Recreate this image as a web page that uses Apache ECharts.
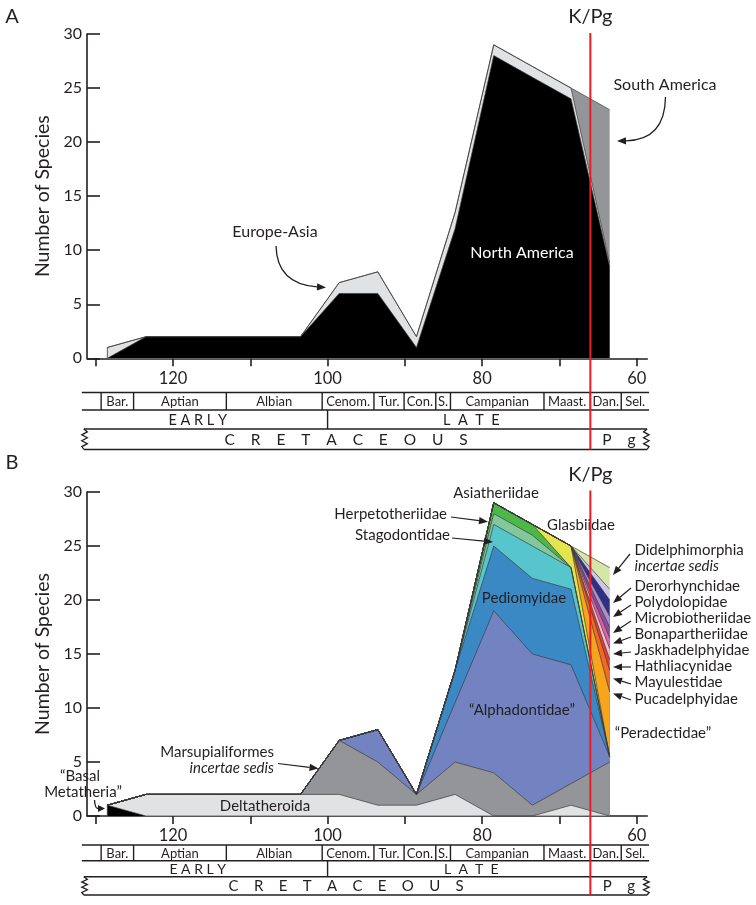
<!DOCTYPE html>
<html><head><meta charset="utf-8">
<script src="https://cdn.jsdelivr.net/npm/echarts@6/dist/echarts.min.js"></script>
<style>html,body{margin:0;padding:0;background:#fff}#c{width:756px;height:905px}</style>
</head><body><div id="c"></div>
<script>
// ---------- data ----------
const ages = [128.5,123.5,118.5,113.5,108.5,103.5,98.5,93.5,88.5,83.5,78.5,73.5,68.5,63.5];
const yTickValues = [0,5,10,15,20,25,30];
const xTickAges = [130,120,110,100,90,80,70,60];
const xLabelAges = [120,100,80,60];
const kpgAge = 66;

// Panel A (by continent)
const northAmerica = [0,2,2,2,2,2,6,6,1,12,28,26,24,8.5];
const europeAsia   = [1,0,0,0,0,0,1,2,1,1.5,1,1,1,0.3];
const southAmerica = [0,0,0,0,0,0,0,0,0,0,0,0,0,14.2];

// Panel B (by family)
const basalMetatheria   = [1,0,0,0,0,0,0,0,0,0,0,0,0,0];
const deltatheroida     = [0,2,2,2,2,2,2,1,1,2,0,0,1,0];
const marsupialiformes  = [0,0,0,0,0,0,5,4,1,3,4,1,2,5];
const alphadontidae     = [0,0,0,0,0,0,0,3,0,5.5,15,14,11,0.5];
const pediomyidae       = [0,0,0,0,0,0,0,0,0,3,6,7,7,0];
const stagodontidae     = [0,0,0,0,0,0,0,0,0,0,2,3,2,0];
const herpetotheriidae  = [0,0,0,0,0,0,0,0,0,0,1,1,0,0];
const asiatheriidae     = [0,0,0,0,0,0,0,0,0,0,1,1,0,0];
const glasbiidae        = [0,0,0,0,0,0,0,0,0,0,0,0,2,0];
const peradectidae      = [0,0,0,0,0,0,0,0,0,0,0,0,0,6];
const pucadelphyidae    = [0,0,0,0,0,0,0,0,0,0,0,0,0,2];
const mayulestidae      = [0,0,0,0,0,0,0,0,0,0,0,0,0,1];
const hathliacynidae    = [0,0,0,0,0,0,0,0,0,0,0,0,0,1];
const jaskhadelphyidae  = [0,0,0,0,0,0,0,0,0,0,0,0,0,1];
const bonapartheriidae  = [0,0,0,0,0,0,0,0,0,0,0,0,0,1];
const microbiotheriidae = [0,0,0,0,0,0,0,0,0,0,0,0,0,1];
const polydolopidae     = [0,0,0,0,0,0,0,0,0,0,0,0,0,1.5];
const derorhynchidae    = [0,0,0,0,0,0,0,0,0,0,0,0,0,1];
const didelphimorphiaIS = [0,0,0,0,0,0,0,0,0,0,0,0,0,2];

// Timescale
const stageNames  = ['', 'Bar.', 'Aptian', 'Albian', 'Cenom.', 'Tur.', 'Con.', 'S.', 'Campanian', 'Maast.', 'Dan.', 'Sel.'];
const stageBounds = [131.8, 129.3, 125.1, 113.1, 100.7, 94.0, 90.1, 86.0, 84.1, 72.0, 66.0, 62.0, 58.4];
const epochNames  = ['E A R L Y', 'L  A  T  E'];
const epochLabelAges = [116.8, 81.4];
const epochBoundary = 100.0;
const periodNames = ['C    R    E    T    A    C    E    O    U    S', 'P    g'];
const periodLabelAges = [97.6, 62.3];

// ---------- styling ----------
const FONT = 'Lato, "Open Sans", sans-serif';
const INK = '#231f20';
const OUT = '#3c3c3c';

const chart = echarts.init(document.getElementById('c'), null, {renderer: 'canvas'});

// Stack layers (bottom -> top) by cumulative sums; draw top layer first so lower ones paint over it.
function stackedSeries(layers, idx) {
  const cum = ages.map(() => 0);
  const out = [];
  layers.forEach(([name, vals, color]) => {
    for (let i = 0; i < ages.length; i++) cum[i] += vals[i];
    out.push({
      type: 'line', name: name, xAxisIndex: idx, yAxisIndex: idx,
      data: ages.map((a, i) => [a, +cum[i].toFixed(3)]),
      symbol: 'none', showSymbol: false, silent: true, animation: false,
      lineStyle: {color: OUT, width: 0.7},
      areaStyle: {color: color, opacity: 1, origin: 'start'},
      itemStyle: {color: color}
    });
  });
  return out.reverse();
}

function xAxis(idx, margin) {
  return {
    type: 'value', gridIndex: idx, min: 58.63, max: 131.13, inverse: true,
    splitLine: {show: false},
    axisLine: {onZero: false, lineStyle: {color: INK, width: 1.6}},
    axisTick: {customValues: xTickAges, length: 8, lineStyle: {color: INK, width: 1.6}},
    axisLabel: {customValues: xLabelAges, fontSize: 16.5, color: INK, margin: margin, fontFamily: FONT}
  };
}
function yAxis(idx) {
  return {
    type: 'value', gridIndex: idx, min: 0, max: 30, interval: 5,
    splitLine: {show: false},
    axisLine: {onZero: false, lineStyle: {color: INK, width: 1.6}},
    axisTick: {inside: true, length: 13, lineStyle: {color: INK, width: 1.6}},
    axisLabel: {fontSize: 16, color: INK, margin: 5, padding: [0, 0, 10, 0], fontFamily: FONT},
    name: 'Number of Species', nameLocation: 'middle', nameGap: 25,
    nameTextStyle: {fontSize: 19.5, color: INK, fontFamily: FONT}
  };
}

const seriesA = stackedSeries([
  ['North America', northAmerica, '#000000'],
  ['Europe-Asia', europeAsia, '#e1e2e4'],
  ['South America', southAmerica, '#939598']
], 0);
const seriesB = stackedSeries([
  ['Basal Metatheria', basalMetatheria, '#000000'],
  ['Deltatheroida', deltatheroida, '#e1e2e4'],
  ['Marsupialiformes incertae sedis', marsupialiformes, '#939598'],
  ['Alphadontidae', alphadontidae, '#7383c1'],
  ['Pediomyidae', pediomyidae, '#3a89c5'],
  ['Stagodontidae', stagodontidae, '#56c5cc'],
  ['Herpetotheriidae', herpetotheriidae, '#81c99c'],
  ['Asiatheriidae', asiatheriidae, '#4db848'],
  ['Glasbiidae', glasbiidae, '#e4e44e'],
  ['Peradectidae', peradectidae, '#f7a51d'],
  ['Pucadelphyidae', pucadelphyidae, '#f26a22'],
  ['Mayulestidae', mayulestidae, '#e63b2e'],
  ['Hathliacynidae', hathliacynidae, '#f4bcd2'],
  ['Jaskhadelphyidae', jaskhadelphyidae, '#e360a4'],
  ['Bonapartheriidae', bonapartheriidae, '#8b4c9f'],
  ['Microbiotheriidae', microbiotheriidae, '#ad8fc6'],
  ['Polydolopidae', polydolopidae, '#2e3085'],
  ['Derorhynchidae', derorhynchidae, '#cbc7e6'],
  ['Didelphimorphia incertae sedis', didelphimorphiaIS, '#d6e6a6']
], 1);

chart.setOption({
  animation: false,
  textStyle: {fontFamily: FONT},
  grid: [
    {left: 87, top: 34, width: 560.3, height: 324.3},
    {left: 87, top: 492, width: 560.3, height: 324}
  ],
  xAxis: [xAxis(0, 12), xAxis(1, 11)],
  yAxis: [yAxis(0), yAxis(1)],
  series: seriesA.concat(seriesB)
});

// ---------- overlay: timescale, K/Pg line, annotations ----------
const els = [];
function px(age, gi) { return chart.convertToPixel({xAxisIndex: gi}, age); }
function py(v, gi) { return chart.convertToPixel({yAxisIndex: gi}, v); }
function line(x1, y1, x2, y2, color, w, z) {
  els.push({type: 'line', z: z || 50, silent: true, shape: {x1, y1, x2, y2},
    style: {stroke: color || INK, lineWidth: w || 1.4}});
}
function text(str, x, y, size, opts) {
  opts = opts || {};
  els.push({type: 'text', z: 60, silent: true, x: x, y: y,
    style: {text: str, fill: opts.fill || INK, align: opts.align || 'center', verticalAlign: 'middle',
      font: (opts.italic ? 'italic ' : '') + size + 'px ' + FONT}});
}
function head(tx, ty, fromX, fromY, len, w) {
  len = len || 9; w = w || 3.6;
  const a = Math.atan2(ty - fromY, tx - fromX);
  const bx = tx - len * Math.cos(a), by = ty - len * Math.sin(a);
  const nx = -Math.sin(a) * w, ny = Math.cos(a) * w;
  els.push({type: 'polygon', z: 61, silent: true,
    shape: {points: [[tx, ty], [bx + nx, by + ny], [bx - nx, by - ny]]}, style: {fill: INK}});
  return [bx, by];
}
function straightArrow(x1, y1, tx, ty) {
  const b = head(tx, ty, x1, y1);
  line(x1, y1, b[0], b[1], INK, 1.2, 61);
}
function curveArrow(x1, y1, cx, cy, tx, ty, len) {
  const b = head(tx, ty, cx, cy, len);
  els.push({type: 'bezierCurve', z: 61, silent: true,
    shape: {x1: x1, y1: y1, cpx1: cx, cpy1: cy, x2: b[0], y2: b[1]},
    style: {stroke: INK, lineWidth: 1.3, fill: null}});
}

// left vertical edge of the first data column (outline of the areas)
[[0, europeAsia[0] + northAmerica[0]], [1, basalMetatheria[0] + deltatheroida[0]]].forEach(([gi, v]) => {
  const x = px(ages[0], gi);
  line(x, py(0, gi), x, py(v, gi), OUT, 0.8, 10);
});

function timescale(gi, rows, sizes) {
  const L = px(stageBounds[0], gi), R = px(stageBounds[stageBounds.length - 1], gi);
  line(L, rows[0], R, rows[0]);
  line(L, rows[1], R, rows[1]);
  line(L + 2, rows[2], R - 2, rows[2]);
  line(L + 2, rows[3], R - 2, rows[3]);
  for (let i = 1; i < stageBounds.length - 1; i++) {
    const x = px(stageBounds[i], gi);
    line(x, rows[0], x, rows[1]);
  }
  for (let i = 0; i < stageNames.length; i++) {
    if (!stageNames[i]) continue;
    const xc = (px(stageBounds[i], gi) + px(stageBounds[i + 1], gi)) / 2;
    text(stageNames[i], xc, (rows[0] + rows[1]) / 2 + 0.5, sizes[0]);
  }
  const xe = px(epochBoundary, gi);
  line(xe, rows[1], xe, rows[2]);
  epochNames.forEach((n, i) => text(n, px(epochLabelAges[i], gi), (rows[1] + rows[2]) / 2 + 0.5, sizes[1]));
  periodNames.forEach((n, i) => text(n, px(periodLabelAges[i], gi), (rows[2] + rows[3]) / 2 + 0.5, sizes[2]));
  [[L, 1], [R, -1]].forEach(([x0, dir]) => {
    const y0 = rows[2], y1 = rows[3], h = y1 - y0;
    const pts = [[x0 + dir * 2, y0]];
    const n = 7;
    for (let k = 1; k < n; k++) pts.push([x0 + dir * (k % 2 ? 5.5 : 0), y0 + h * k / n]);
    pts.push([x0 + dir * 2, y1]);
    els.push({type: 'polyline', z: 50, silent: true, shape: {points: pts},
      style: {stroke: INK, lineWidth: 1.3, fill: null}});
  });
}

timescale(0, [392.5, 410, 429, 449.5], [13, 14.5, 15.5]);
timescale(1, [845, 860.7, 876.7, 895], [13, 14, 15]);

const xk0 = px(kpgAge, 0), xk1 = px(kpgAge, 1);
line(xk0, 33, xk0, 449.5, '#ed1c24', 2, 70);
line(xk1, 490.5, xk1, 895, '#ed1c24', 2, 70);
text('K/Pg', xk0, 17, 20);
text('K/Pg', xk1, 475, 20);

text('A', 12, 17, 20);
text('B', 12, 463, 20);

text('Europe-Asia', 275, 232, 16);
curveArrow(276, 246, 277, 284, 326, 287.5);
text('North America', 522, 253, 16, {fill: '#ffffff'});
text('South America', 665, 84.5, 16);
curveArrow(665.5, 97, 665, 140, 617, 141);

text('Asiatheriidae', 496, 493.5, 15);
text('Herpetotheriidae', 447, 514.5, 15, {align: 'right'});
straightArrow(451, 517, 488, 521.7);
text('Stagodontidae', 450, 535.5, 15, {align: 'right'});
straightArrow(452, 538, 493, 542);
text('Glasbiidae', 581, 525, 15);
text('Pediomyidae', 524, 598.5, 15);
text('\u201CAlphadontidae\u201D', 522, 710, 15);
text('\u201CPeradectidae\u201D', 663, 733.5, 15);
text('Deltatheroida', 265, 806, 15);
text('Marsupialiformes', 274, 752, 15, {align: 'right'});
text('incertae sedis', 274, 768, 15, {align: 'right', italic: true});
straightArrow(278, 763.5, 318.5, 768.5);
text('\u201CBasal', 80, 776, 15);
text('Metatheria\u201D', 83, 792, 15);
curveArrow(94.5, 800, 95, 808.5, 105, 808.5, 7);

const rightX = 634.5;
const rightLabels = [
  ['Didelphimorphia', 550, false],
  ['incertae sedis', 566, true],
  ['Derorhynchidae', 586, false],
  ['Polydolopidae', 602, false],
  ['Microbiotheriidae', 618, false],
  ['Bonapartheriidae', 634, false],
  ['Jaskhadelphyidae', 650.5, false],
  ['Hathliacynidae', 666.5, false],
  ['Mayulestidae', 682.5, false],
  ['Pucadelphyidae', 699, false]
];
rightLabels.forEach(([t, y, it]) => text(t, rightX, y, 15, {align: 'left', italic: it}));
const rightArrows = [
  [630, 554, 613, 575],
  [631, 588, 613, 603],
  [631, 605, 613, 617],
  [631, 621, 613, 633],
  [631, 637, 613, 643.5],
  [631, 652, 613, 654],
  [631, 667, 613, 667],
  [631, 684, 613, 678.5],
  [631, 700, 613, 693.5]
];
rightArrows.forEach(a => straightArrow(a[0], a[1], a[2], a[3]));

chart.setOption({graphic: {elements: els}});
</script>
</body></html>
